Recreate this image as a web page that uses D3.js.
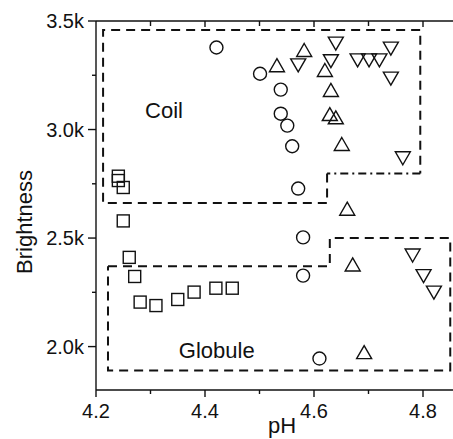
<!DOCTYPE html>
<html>
<head>
<meta charset="utf-8">
<script src="https://cdn.jsdelivr.net/npm/d3@7"></script>
<style>
  html, body { margin: 0; padding: 0; background: #fff; }
  svg { display: block; }
  text { font-family: "Liberation Sans", Arial, Helvetica, sans-serif; fill: #111; }
</style>
</head>
<body>
<svg id="chart" width="453" height="439"></svg>
<script>
// ---- data (pH, brightness) ----
const circlePH = [4.421, 4.501, 4.539, 4.539, 4.551, 4.560, 4.571, 4.580, 4.580, 4.610];
const circleB  = [3378, 3257, 3184, 3073, 3018, 2923, 2728, 2503, 2327, 1945];

const triUpPH = [4.582, 4.532, 4.620, 4.631, 4.629, 4.640, 4.651, 4.661, 4.671, 4.692];
const triUpB  = [3364, 3294, 3272, 3180, 3069, 3054, 2931, 2633, 2376, 1972];

const triDownPH = [4.640, 4.571, 4.631, 4.680, 4.701, 4.720, 4.741, 4.741, 4.763, 4.781, 4.801, 4.820];
const triDownB  = [3398, 3298, 3317, 3321, 3321, 3321, 3375, 3237, 2870, 2422, 2327, 2251];

const squarePH = [4.241, 4.241, 4.250, 4.250, 4.261, 4.271, 4.281, 4.310, 4.350, 4.380, 4.420, 4.450];
const squareB  = [2785, 2765, 2733, 2579, 2411, 2323, 2205, 2189, 2217, 2251, 2269, 2269];

// region outlines (pH, brightness)
const coilDashed = [[4.624, 2798], [4.624, 2661], [4.213, 2661], [4.213, 3459], [4.795, 3459], [4.795, 2798]];
const coilDashDot = [[4.795, 2798], [4.624, 2798]];
const globuleBox = [[4.222, 2370], [4.629, 2370], [4.629, 2500], [4.850, 2500], [4.850, 1890], [4.222, 1890], [4.222, 2370]];

const xMajorTicks = [4.2, 4.4, 4.6, 4.8];
const xMinorTicks = [4.3, 4.5, 4.7];
const yMajorTicks = [2000, 2500, 3000, 3500];
const yMinorTicks = [2250, 2750, 3250];
const xTickLabels = ["4.2", "4.4", "4.6", "4.8"];
const yTickLabels = ["2.0k", "2.5k", "3.0k", "3.5k"];

const annotations = [
  { text: "Coil", ph: 4.290, b: 3052 },
  { text: "Globule", ph: 4.352, b: 1948 }
];

// ---- layout ----
const svg = d3.select("#chart");
const W = 453, H = 439;
const mLeft = 96, mTop = 21, mBottom = 390;
const x = d3.scaleLinear().domain([4.2, 4.8]).range([mLeft, 423]);
const y = d3.scaleLinear().domain([1800, 3500]).range([mBottom, mTop]);
const xEnd = W;

const ink = "#111";

// axes
const gx = svg.append("g").attr("transform", `translate(0,${mBottom})`);
gx.append("line").attr("x1", mLeft).attr("x2", xEnd).attr("y1", 0).attr("y2", 0)
  .attr("stroke", ink).attr("stroke-width", 1.4);
gx.selectAll("line.maj").data(xMajorTicks).join("line").attr("class", "maj")
  .attr("x1", d => x(d)).attr("x2", d => x(d)).attr("y1", 0).attr("y2", 7)
  .attr("stroke", ink).attr("stroke-width", 1.4);
gx.selectAll("line.min").data(xMinorTicks).join("line").attr("class", "min")
  .attr("x1", d => x(d)).attr("x2", d => x(d)).attr("y1", 0).attr("y2", 4)
  .attr("stroke", ink).attr("stroke-width", 1.4);
gx.selectAll("text").data(xMajorTicks).join("text")
  .attr("x", d => x(d)).attr("y", 28).attr("text-anchor", "middle")
  .attr("font-size", 20).text((d, i) => xTickLabels[i]);

// top axis (mirror, ticks inward)
const gt = svg.append("g").attr("transform", `translate(0,${mTop})`);
gt.append("line").attr("x1", mLeft).attr("x2", xEnd).attr("y1", 0).attr("y2", 0)
  .attr("stroke", ink).attr("stroke-width", 1.4);
gt.selectAll("line.maj").data(xMajorTicks.slice(1)).join("line").attr("class", "maj")
  .attr("x1", d => x(d)).attr("x2", d => x(d)).attr("y1", 0).attr("y2", 6)
  .attr("stroke", ink).attr("stroke-width", 1.4);
gt.selectAll("line.min").data(xMinorTicks).join("line").attr("class", "min")
  .attr("x1", d => x(d)).attr("x2", d => x(d)).attr("y1", 0).attr("y2", 5)
  .attr("stroke", ink).attr("stroke-width", 1.4);

// left axis
const gy = svg.append("g").attr("transform", `translate(${mLeft},0)`);
gy.append("line").attr("x1", 0).attr("x2", 0).attr("y1", mTop).attr("y2", mBottom)
  .attr("stroke", ink).attr("stroke-width", 1.4);
gy.selectAll("line.maj").data(yMajorTicks).join("line").attr("class", "maj")
  .attr("x1", -8).attr("x2", 0).attr("y1", d => y(d)).attr("y2", d => y(d))
  .attr("stroke", ink).attr("stroke-width", 1.4);
gy.selectAll("line.min").data(yMinorTicks).join("line").attr("class", "min")
  .attr("x1", -4).attr("x2", 0).attr("y1", d => y(d)).attr("y2", d => y(d))
  .attr("stroke", ink).attr("stroke-width", 1.4);
gy.selectAll("text").data(yMajorTicks).join("text")
  .attr("x", -12).attr("y", d => y(d)).attr("dy", "0.35em").attr("text-anchor", "end")
  .attr("font-size", 20).text((d, i) => yTickLabels[i]);

// axis titles
svg.append("text").attr("x", 282).attr("y", 433).attr("text-anchor", "middle")
  .attr("font-size", 22).text("pH");
svg.append("text").attr("transform", "translate(32,222) rotate(-90)")
  .attr("text-anchor", "middle").attr("font-size", 22).text("Brightness");

// region outlines
const line = d3.line().x(d => x(d[0])).y(d => y(d[1]));
svg.append("path").attr("d", line(coilDashed)).attr("fill", "none")
  .attr("stroke", ink).attr("stroke-width", 2).attr("stroke-dasharray", "9,6");
svg.append("path").attr("d", line(coilDashDot)).attr("fill", "none")
  .attr("stroke", ink).attr("stroke-width", 2).attr("stroke-dasharray", "8,4,2,4");
svg.append("path").attr("d", line(globuleBox)).attr("fill", "none")
  .attr("stroke", ink).attr("stroke-width", 2).attr("stroke-dasharray", "9,6");

// annotations
svg.selectAll("text.ann").data(annotations).join("text").attr("class", "ann")
  .attr("x", d => x(d.ph)).attr("y", d => y(d.b))
  .attr("font-size", 22).text(d => d.text);

// markers
const mk = svg.append("g").attr("fill", "none").attr("stroke", ink).attr("stroke-width", 1.4);
mk.selectAll("circle").data(d3.zip(circlePH, circleB)).join("circle")
  .attr("cx", d => x(d[0])).attr("cy", d => y(d[1])).attr("r", 6.5);
mk.selectAll("rect").data(d3.zip(squarePH, squareB)).join("rect")
  .attr("x", d => x(d[0]) - 6).attr("y", d => y(d[1]) - 6).attr("width", 12).attr("height", 12);
const triUp = (cx, cy) => `M${cx},${cy - 7}L${cx + 7.5},${cy + 6}L${cx - 7.5},${cy + 6}Z`;
const triDown = (cx, cy) => `M${cx},${cy + 7}L${cx + 7.5},${cy - 6}L${cx - 7.5},${cy - 6}Z`;
mk.selectAll("path.up").data(d3.zip(triUpPH, triUpB)).join("path").attr("class", "up")
  .attr("d", d => triUp(x(d[0]), y(d[1])));
mk.selectAll("path.down").data(d3.zip(triDownPH, triDownB)).join("path").attr("class", "down")
  .attr("d", d => triDown(x(d[0]), y(d[1])));
</script>
</body>
</html>
